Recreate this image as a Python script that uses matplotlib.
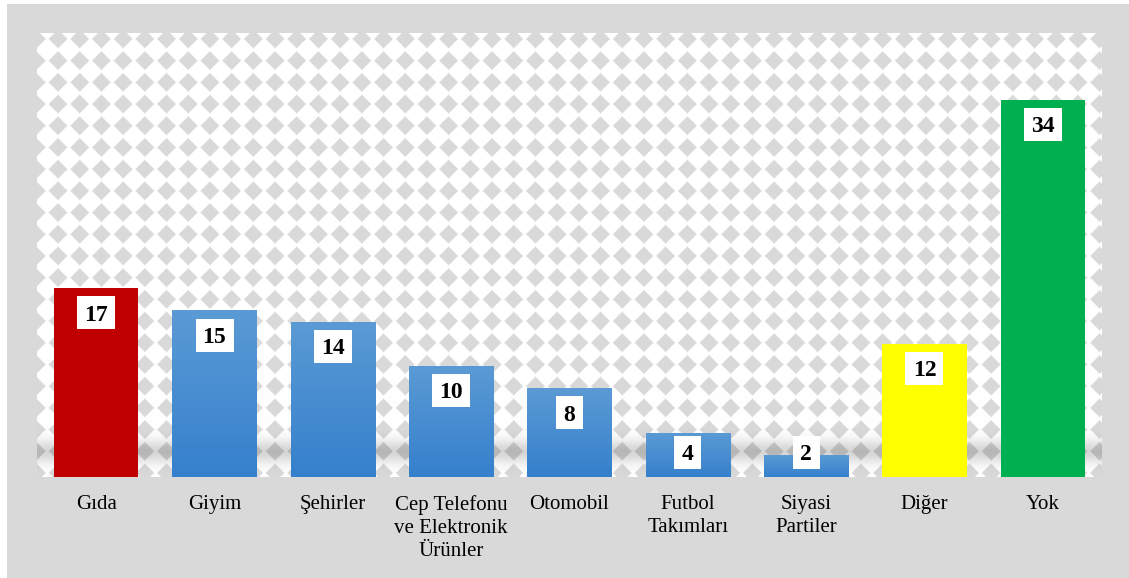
import numpy as np
import matplotlib
matplotlib.use("Agg")
import matplotlib.pyplot as plt
import matplotlib.transforms as mtransforms
from matplotlib.patches import Rectangle
from matplotlib.colors import LinearSegmentedColormap

categories = ["Gıda", "Giyim", "Şehirler", "Cep Telefonu\nve Elektronik\nÜrünler",
              "Otomobil", "Futbol\nTakımları", "Siyasi\nPartiler", "Diğer", "Yok"]
values = [17, 15, 14, 10, 8, 4, 2, 12, 34]
colors = ["#c00000", "blue", "blue", "blue", "blue", "blue", "blue", "#ffff00", "#00b050"]

W, H = 1129, 578
fig = plt.figure(figsize=(W / 100, H / 100), dpi=100)
fig.patch.set_facecolor("white")
fig.patches.append(Rectangle((7 / W, 0), 1 - 7 / W, 1 - 4 / H, transform=fig.transFigure,
                             facecolor="#d9d9d9", edgecolor="none", zorder=-5))

# plot area in pixels
x0, x1, y0, y1 = 37, 1102, 33, 477
YMAX = 40
ax = fig.add_axes([x0 / W, 1 - y1 / H, (x1 - x0) / W, (y1 - y0) / H])
ax.set_zorder(2)
ax.set_xlim(-0.5, len(values) - 0.5)
ax.set_ylim(0, YMAX)

# diamond background pattern (pixel-based)
pw, ph = x1 - x0, y1 - y0
yy, xx = np.mgrid[0:ph, 0:pw].astype(float)
per = 21.7
cx = ((xx + x0 - 46.7) % per) - per / 2
cy = ((yy + y0 - 49.3) % per) - per / 2
d = np.abs(cx) + np.abs(cy)
g = np.clip((d - 8.6) / 1.6, 0, 1)  # 0 inside diamond, 1 outside
gray = 217 / 255
img = gray + (1 - gray) * g
shadow = np.exp(-((yy - (ph - 26)) / 12.0) ** 2) * 0.16
img = img * (1 - shadow)
rgb = np.dstack([img, img, img])
ax.imshow(rgb, extent=(-0.5, len(values) - 0.5, 0, YMAX), aspect="auto",
          interpolation="bilinear", zorder=0)

xs = np.arange(len(values))
bars = ax.bar(xs, values, width=0.71, color=[c if c != "blue" else "#4a90d2" for c in colors],
              zorder=2, linewidth=0)

cmap = LinearSegmentedColormap.from_list("bl", ["#3580cc", "#5b9bd5"])
grad = np.linspace(0, 1, 256).reshape(-1, 1)
for b, c in zip(bars, colors):
    if c == "blue":
        bx, bw, bh = b.get_x(), b.get_width(), b.get_height()
        im = ax.imshow(grad, cmap=cmap, origin="lower", aspect="auto",
                       extent=(bx, bx + bw, 0, bh), zorder=3)
        im.set_clip_path(b)

# value labels: white boxes at inside end, kept above the baseline
px_per_unit = ph / YMAX
off = 24.5 / px_per_unit
for b, v in zip(bars, values):
    xc = b.get_x() + b.get_width() / 2
    yc = max(b.get_height() - off, off)
    s = str(v)
    bw_in = 0.38 if len(s) > 1 else 0.27
    bh_in = 0.33
    tr = fig.dpi_scale_trans + mtransforms.ScaledTranslation(xc, yc, ax.transData)
    ax.add_patch(Rectangle((-bw_in / 2, -bh_in / 2), bw_in, bh_in, transform=tr,
                           facecolor="white", edgecolor="none", zorder=4))
    ax.text(xc, yc, s, ha="center", va="center_baseline", fontsize=17, fontweight="bold",
            family="Liberation Serif", color="black", zorder=5)

ax.set_xticks(xs)
ax.set_xticklabels(categories, fontsize=15, family="Liberation Serif", linespacing=1.3)
ax.tick_params(axis="x", length=0, pad=13)
ax.set_yticks([])
for s in ax.spines.values():
    s.set_visible(False)
ax.set_xlim(-0.5, len(values) - 0.5)
ax.set_ylim(0, YMAX)

fig.savefig("out.png", dpi=100)
